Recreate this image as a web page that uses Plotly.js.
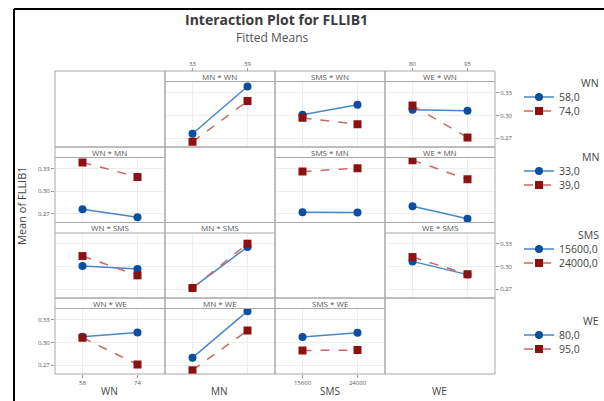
<!DOCTYPE html>
<html>
<head>
<meta charset="utf-8">
<script src="https://cdn.plot.ly/plotly-3.0.1.min.js"></script>
<style>
html,body{margin:0;padding:0;background:#fff;}
#chart{width:604px;height:401px;}
</style>
</head>
<body>
<div id="chart"></div>
<script>
// ---------- data ----------
const FACTORS = ['WN', 'MN', 'SMS', 'WE'];
const WN_LEVELS = [58, 74];
const MN_LEVELS = [33, 39];
const SMS_LEVELS = [15600, 24000];
const WE_LEVELS = [80, 95];
const WN_LABELS = ['58,0', '74,0'];
const MN_LABELS = ['33,0', '39,0'];
const SMS_LABELS = ['15600,0', '24000,0'];
const WE_LABELS = ['80,0', '95,0'];
// fitted means, rows = first factor level, cols = second factor level
const MEANS_WN_MN = [[0.2760, 0.3380], [0.2654, 0.3188]];
const MEANS_WN_SMS = [[0.3010, 0.3140], [0.2968, 0.2885]];
const MEANS_WN_WE = [[0.3075, 0.3062], [0.3130, 0.2710]];
const MEANS_MN_SMS = [[0.2720, 0.2718], [0.3260, 0.3304]];
const MEANS_MN_WE = [[0.2800, 0.2636], [0.3410, 0.3157]];
const MEANS_SMS_WE = [[0.3070, 0.2895], [0.3127, 0.2900]];
const Y_TICKS = [0.27, 0.30, 0.33];

// ---------- helpers ----------
const LEVELS = {WN: WN_LEVELS, MN: MN_LEVELS, SMS: SMS_LEVELS, WE: WE_LEVELS};
const LABELS = {WN: WN_LABELS, MN: MN_LABELS, SMS: SMS_LABELS, WE: WE_LABELS};
const PAIRS = {'WN|MN': MEANS_WN_MN, 'WN|SMS': MEANS_WN_SMS, 'WN|WE': MEANS_WN_WE,
               'MN|SMS': MEANS_MN_SMS, 'MN|WE': MEANS_MN_WE, 'SMS|WE': MEANS_SMS_WE};
function meanOf(a, i, b, j) {
  const ka = FACTORS.indexOf(a), kb = FACTORS.indexOf(b);
  return ka < kb ? PAIRS[a + '|' + b][i][j] : PAIRS[b + '|' + a][j][i];
}

const W = 604, H = 401;
const COL = [55, 165, 275, 385, 495];
const ROW = [71, 147, 222.5, 298, 374];
const STRIP = 10.5;
const fx = x => x / W;
const fy = y => 1 - y / H;
const Y_RANGE = [0.2586, 0.3445];
const FONT = 'Open Sans, Noto Sans, sans-serif';
const GRID = '#eeeeee';
const FRAME = '#a8a8a8';
const TICKFONT = {family: FONT, size: 6, color: '#555'};

const BLUE_M = '#0b4ea2', BLUE_L = '#4a86c9';
const RED_M = '#8e1111', RED_L = '#c86a6a';

const traces = [];
const layout = {
  width: W, height: H,
  margin: {l: 0, r: 0, t: 0, b: 0},
  paper_bgcolor: '#fff', plot_bgcolor: 'rgba(0,0,0,0)',
  font: {family: FONT, color: '#444'},
  separators: ', ',
  shapes: [], annotations: []
};

const legName = k => k === 0 ? 'legend' : 'legend' + (k + 1);

let n = 0;
const legendShown = {};
for (let r = 0; r < 4; r++) {
  for (let c = 0; c < 4; c++) {
    const x0 = COL[c], x1 = COL[c + 1], y0 = ROW[r], y1 = ROW[r + 1];
    layout.shapes.push({type: 'rect', xref: 'paper', yref: 'paper',
      x0: fx(x0), x1: fx(x1), y0: fy(y1), y1: fy(y0), line: {color: FRAME, width: 1}, layer: 'above'});
    if (r === c) continue;
    n++;
    const sfx = n === 1 ? '' : String(n);
    const xf = FACTORS[c], tf = FACTORS[r];
    const lv = LEVELS[xf];
    const d = lv[1] - lv[0];
    // strip
    layout.shapes.push({type: 'line', xref: 'paper', yref: 'paper',
      x0: fx(x0), x1: fx(x1), y0: fy(y0 + STRIP), y1: fy(y0 + STRIP), line: {color: FRAME, width: 1}, layer: 'above'});
    layout.annotations.push({xref: 'paper', yref: 'paper', x: fx((x0 + x1) / 2), y: fy(y0 + STRIP / 2),
      text: xf + ' * ' + tf, showarrow: false, xanchor: 'center', yanchor: 'middle',
      font: {family: FONT, size: 8, color: '#555'}});
    // axes
    const topTicks = (r === 0 && (c === 1 || c === 3));
    const botTicks = (r === 3 && (c === 0 || c === 2));
    const leftTicks = (c === 0 && (r === 1 || r === 3));
    const rightTicks = (c === 3 && (r === 0 || r === 2));
    const xa = {
      domain: [fx(x0), fx(x1)], range: [lv[0] - d / 2, lv[1] + d / 2],
      tickvals: lv, tickformat: 'd', showgrid: true, gridcolor: GRID, zeroline: false, showline: false,
      showticklabels: topTicks || botTicks, ticks: (topTicks || botTicks) ? 'outside' : '',
      ticklen: 3, tickcolor: '#999', tickfont: TICKFONT, fixedrange: true, anchor: 'y' + sfx
    };
    if (topTicks) { xa.anchor = 'free'; xa.position = fy(y0); xa.side = 'top'; }
    const ya = {
      domain: [fy(y1), fy(y0 + STRIP)], range: Y_RANGE, tickvals: Y_TICKS, tickformat: '.2f',
      showgrid: true, gridcolor: GRID, zeroline: false, showline: false,
      showticklabels: leftTicks || rightTicks, ticks: (leftTicks || rightTicks) ? 'outside' : '',
      side: rightTicks ? 'right' : 'left',
      ticklen: 3, tickcolor: '#999', tickfont: TICKFONT, fixedrange: true, anchor: 'x' + sfx
    };
    layout['xaxis' + sfx] = xa;
    layout['yaxis' + sfx] = ya;
    const showLeg = !legendShown[r];
    legendShown[r] = true;
    for (let t = 0; t < 2; t++) {
      traces.push({
        type: 'scatter', mode: 'lines+markers', xaxis: 'x' + sfx, yaxis: 'y' + sfx,
        x: lv, y: lv.map((_, k) => meanOf(tf, t, xf, k)),
        name: LABELS[tf][t], legend: legName(r * 2 + t),
        showlegend: showLeg, hoverinfo: 'skip',
        line: {color: t ? RED_L : BLUE_L, width: 1.5, dash: t ? 'dash' : 'solid'},
        marker: {symbol: t ? 'square' : 'circle', size: 8, color: t ? RED_M : BLUE_M}
      });
    }
  }
}

// legends: one legend per entry, group title as annotation
const LEG_TITLE_Y = [83, 157, 235, 321];
const LEG_ITEM_Y = [[97, 111], [171, 185], [249, 263], [335, 349]];
for (let r = 0; r < 4; r++) {
  layout.annotations.push({xref: 'paper', yref: 'paper', x: fx(601), y: fy(LEG_TITLE_Y[r]),
    text: FACTORS[r], showarrow: false, xanchor: 'right', yanchor: 'middle',
    font: {family: FONT, size: 10.5, color: '#444'}});
  for (let t = 0; t < 2; t++) {
    layout[legName(r * 2 + t)] = {
      x: fx(519), y: fy(LEG_ITEM_Y[r][t]), xanchor: 'left', yanchor: 'middle',
      bgcolor: 'rgba(0,0,0,0)', borderwidth: 0, itemwidth: 30,
      font: {family: FONT, size: 10.5, color: '#444'}
    };
  }
}

// axis titles
for (let c = 0; c < 4; c++) {
  layout.annotations.push({xref: 'paper', yref: 'paper', x: fx((COL[c] + COL[c + 1]) / 2), y: fy(400),
    text: FACTORS[c], showarrow: false, xanchor: 'center', yanchor: 'bottom',
    font: {family: FONT, size: 10, color: '#444'}});
}
layout.annotations.push({xref: 'paper', yref: 'paper', x: fx(21), y: fy(206), text: 'Mean of FLLIB1',
  textangle: -90, showarrow: false, xanchor: 'center', yanchor: 'middle',
  font: {family: FONT, size: 11, color: '#444'}});
layout.annotations.push({xref: 'paper', yref: 'paper', x: fx(276), y: fy(19), text: '<b>Interaction Plot for FLLIB1</b>',
  showarrow: false, xanchor: 'center', yanchor: 'middle', font: {family: FONT, size: 14, color: '#3a3a3a'}});
layout.annotations.push({xref: 'paper', yref: 'paper', x: fx(272), y: fy(37), text: 'Fitted Means',
  showarrow: false, xanchor: 'center', yanchor: 'middle', font: {family: FONT, size: 12, color: '#555'}});

// outer border
layout.shapes.push({type: 'line', xref: 'paper', yref: 'paper', x0: fx(14), x1: fx(14), y0: 0, y1: fy(9), line: {color: '#000', width: 2}});
layout.shapes.push({type: 'line', xref: 'paper', yref: 'paper', x0: fx(14), x1: 1, y0: fy(9), y1: fy(9), line: {color: '#000', width: 2}});

Plotly.newPlot('chart', traces, layout, {displayModeBar: false, staticPlot: true});
</script>
</body>
</html>
